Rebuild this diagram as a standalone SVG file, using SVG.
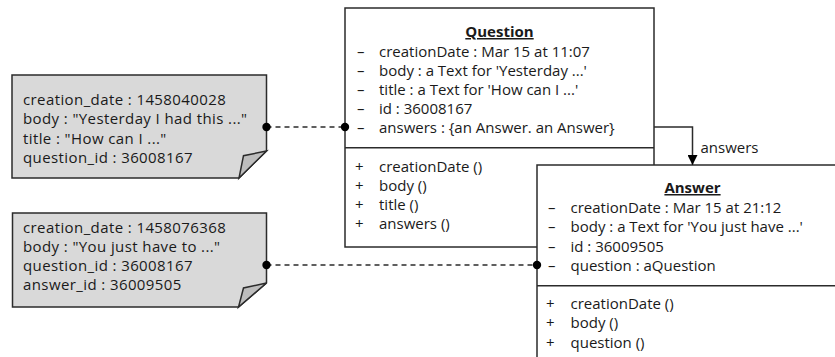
<svg xmlns="http://www.w3.org/2000/svg" width="835" height="357" viewBox="0 0 835 357">
<defs>
<style>
text{font-family:"Open Sans","Noto Sans",sans-serif;font-size:15px;fill:#1a1a1a}
.n{letter-spacing:0.4px}
.t{font-weight:bold;text-decoration:underline;text-anchor:middle}
.box{fill:#fff;stroke:#2b2b2b;stroke-width:1.5}
.note{fill:#d9d9d9;stroke:#2b2b2b;stroke-width:1.5;stroke-linejoin:miter}
.fold{fill:#bdbdbd;stroke:#2b2b2b;stroke-width:1.5}
.ln{stroke:#2b2b2b;stroke-width:1.5;fill:none}
.dash{stroke:#2b2b2b;stroke-width:1.5;fill:none;stroke-dasharray:5,4}
.dot{fill:#000}
</style>
<marker id="arr" viewBox="0 0 10 10" refX="10" refY="5" markerWidth="10" markerHeight="10" markerUnits="userSpaceOnUse" orient="auto">
<path d="M0,0 L10,5 L0,10 z" fill="#000"/>
</marker>
</defs>

<g id="question">
<rect class="box" x="345" y="8" width="309" height="239"/>
<line class="ln" x1="345" y1="147.7" x2="654" y2="147.7"/>
<text class="t" x="499.5" y="37">Question</text>
<text x="357" y="56.5">–</text><text x="379" y="56.5">creationDate : Mar 15 at 11:07</text>
<text x="357" y="76">–</text><text x="379" y="76">body : a Text for 'Yesterday ...'</text>
<text x="357" y="95">–</text><text x="379" y="95">title : a Text for 'How can I ...'</text>
<text x="357" y="114">–</text><text x="379" y="114">id : 36008167</text>
<text x="357" y="133">–</text><text x="379" y="133">answers : {an Answer. an Answer}</text>
<text x="355" y="172">+</text><text x="379" y="172">creationDate ()</text>
<text x="355" y="190.5">+</text><text x="379" y="190.5">body ()</text>
<text x="355" y="209.5">+</text><text x="379" y="209.5">title ()</text>
<text x="355" y="228.5">+</text><text x="379" y="228.5">answers ()</text>
</g>

<g id="answer">
<rect class="box" x="537" y="165" width="320" height="220"/>
<line class="ln" x1="537" y1="285.7" x2="857" y2="285.7"/>
<text class="t" x="692.5" y="193">Answer</text>
<text x="548" y="212.5">–</text><text x="570.5" y="212.5">creationDate : Mar 15 at 21:12</text>
<text x="548" y="232">–</text><text x="570.5" y="232">body : a Text for 'You just have ...'</text>
<text x="548" y="251.5">–</text><text x="570.5" y="251.5">id : 36009505</text>
<text x="548" y="270.5">–</text><text x="570.5" y="270.5">question : aQuestion</text>
<text x="546" y="308.5">+</text><text x="570.5" y="308.5">creationDate ()</text>
<text x="546" y="328">+</text><text x="570.5" y="328">body ()</text>
<text x="546" y="347.5">+</text><text x="570.5" y="347.5">question ()</text>
</g>

<g id="note-question">
<path class="note" d="M12,75 H266.5 V151 L239,178 H12 Z"/>
<path class="fold" d="M266.5,151 L243.5,155.7 L239,178 Z"/>
<text class="n" x="23" y="104.5">creation_date : 1458040028</text>
<text class="n" x="23" y="124">body : "Yesterday I had this ..."</text>
<text class="n" x="23" y="143.5">title : "How can I ..."</text>
<text class="n" x="23" y="162.5">question_id : 36008167</text>
</g>

<g id="note-answer">
<path class="note" d="M12.5,213 H266.5 V283 L238.5,307 H12.5 Z"/>
<path class="fold" d="M266.5,283 L243.5,288 L238.5,307 Z"/>
<text class="n" x="23" y="233">creation_date : 1458076368</text>
<text class="n" x="23" y="252">body : "You just have to ..."</text>
<text class="n" x="23" y="271">question_id : 36008167</text>
<text class="n" x="23" y="290">answer_id : 36009505</text>
</g>

<g id="connectors">
<path class="ln" d="M654,127 H692.5 V165" marker-end="url(#arr)"/>
<text x="700.5" y="153">answers</text>
<line class="dash" x1="266.5" y1="127" x2="345" y2="127"/>
<circle class="dot" cx="266.5" cy="127" r="4.2"/>
<circle class="dot" cx="345" cy="127" r="4.2"/>
<line class="dash" x1="266.5" y1="265" x2="537" y2="265"/>
<circle class="dot" cx="266.5" cy="265" r="4.2"/>
<circle class="dot" cx="537" cy="265" r="4.2"/>
</g>
</svg>
